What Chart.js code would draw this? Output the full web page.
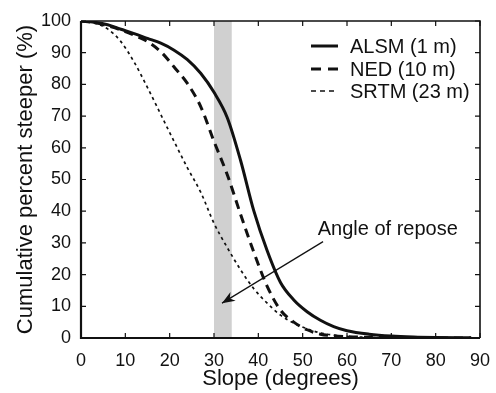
<!DOCTYPE html>
<html lang="en">
<head>
<meta charset="UTF-8">
<title>Cumulative slope distribution</title>
<script src="https://cdn.jsdelivr.net/npm/chart.js"></script>
<style>
  html, body { margin: 0; padding: 0; background: #ffffff; }
  #wrap { width: 496px; height: 393px; }
</style>
</head>
<body>
<div id="wrap"><canvas id="slopeChart"></canvas></div>
<script>
// slope values (degrees) shared by all three curves
const slopeDeg = [0, 3, 6, 9, 12, 15, 18, 21, 24, 27, 30, 33, 36, 39, 42, 45, 48, 51, 54, 57, 60, 65, 70, 75, 80, 88];
// cumulative percent steeper
const alsmPct = [100, 99.6, 98.8, 97.4, 96, 94.5, 93, 90.8, 87.8, 83.5, 77.5, 69.5, 56, 40, 27.5, 17.5, 12, 8.3, 5.6, 3.6, 2.3, 1.2, 0.6, 0.3, 0.15, 0.05];
const nedPct  = [100, 99.5, 98.5, 97.2, 95.5, 93.5, 90.3, 85.5, 80.3, 73, 62, 51.5, 39, 27, 16.3, 8.8, 5, 2.6, 1.2, 0.7, 0.4, 0.2, 0.1, 0.05, 0, 0];
const srtmPct = [100, 99.3, 97.5, 93.5, 87, 79, 70.5, 62, 53.7, 46, 36.2, 28.5, 21.5, 15.5, 11, 7.2, 4.7, 2.9, 1.6, 0.9, 0.5, 0.2, 0.1, 0, 0, 0];
const seriesLabels = ['ALSM (1 m)', 'NED (10 m)', 'SRTM (23 m)'];

const xTicks = [0, 10, 20, 30, 40, 50, 60, 70, 80, 90];
const yTicks = [0, 10, 20, 30, 40, 50, 60, 70, 80, 90, 100];

// shaded angle-of-repose band and its arrow/label (data units)
const reposeBand = [30, 34];
const arrowFrom = [54.6, 30.4];
const arrowTo = [31.8, 11.0];
const noteAt = [53.4, 34.1];
const noteText = 'Angle of repose';

const FONT = '"Liberation Sans", Arial, sans-serif';
const INK = '#111111';

function toPoints(ys) {
    return slopeDeg.map((x, i) => ({ x: x, y: ys[i] }));
}

const styles = [
    { width: 3, dash: [], legendDash: [] },
    { width: 3, dash: [9, 6], legendDash: [10, 7] },
    { width: 1.7, dash: [3, 3.5], legendDash: [5, 4] }
];

// band behind the curves
const bandPlugin = {
    id: 'band',
    beforeDatasetsDraw(chart) {
        const { ctx, chartArea, scales } = chart;
        const x0 = scales.x.getPixelForValue(reposeBand[0]);
        const x1 = scales.x.getPixelForValue(reposeBand[1]);
        ctx.save();
        ctx.fillStyle = '#d0d0d0';
        ctx.fillRect(x0, chartArea.top, x1 - x0, chartArea.bottom - chartArea.top);
        ctx.restore();
    }
};

// frame, inward ticks, legend, arrow note
const framePlugin = {
    id: 'frame',
    afterDraw(chart) {
        const { ctx, chartArea: a, scales } = chart;
        ctx.save();
        ctx.strokeStyle = INK;

        // inward tick marks on all four sides
        ctx.lineWidth = 1.2;
        const tl = 5;
        xTicks.forEach(v => {
            const px = scales.x.getPixelForValue(v);
            ctx.beginPath();
            ctx.moveTo(px, a.bottom); ctx.lineTo(px, a.bottom - tl);
            ctx.moveTo(px, a.top); ctx.lineTo(px, a.top + tl);
            ctx.stroke();
        });
        yTicks.forEach(v => {
            const py = scales.y.getPixelForValue(v);
            ctx.beginPath();
            ctx.moveTo(a.left, py); ctx.lineTo(a.left + tl, py);
            ctx.moveTo(a.right, py); ctx.lineTo(a.right - tl, py);
            ctx.stroke();
        });

        // box
        ctx.lineWidth = 1.6;
        ctx.beginPath();
        ctx.moveTo(a.left, a.top); ctx.lineTo(a.right, a.top); ctx.lineTo(a.right, a.bottom);
        ctx.stroke();
        ctx.lineWidth = 2.2;
        ctx.beginPath();
        ctx.moveTo(a.left, a.top); ctx.lineTo(a.left, a.bottom); ctx.lineTo(a.right, a.bottom);
        ctx.stroke();

        // legend
        ctx.font = '20px ' + FONT;
        ctx.fillStyle = INK;
        ctx.textBaseline = 'middle';
        ctx.textAlign = 'left';
        const lx0 = 311, lx1 = 338, tx = 350;
        const rows = [46, 69, 91];
        chart.data.datasets.forEach((ds, i) => {
            ctx.lineWidth = styles[i].width;
            ctx.setLineDash(styles[i].legendDash);
            ctx.beginPath();
            ctx.moveTo(lx0, rows[i]); ctx.lineTo(lx1, rows[i]);
            ctx.stroke();
            ctx.setLineDash([]);
            ctx.fillText(ds.label, tx, rows[i] + 1);
        });

        // arrow with note
        const fx = scales.x.getPixelForValue(arrowFrom[0]);
        const fy = scales.y.getPixelForValue(arrowFrom[1]);
        const ex = scales.x.getPixelForValue(arrowTo[0]);
        const ey = scales.y.getPixelForValue(arrowTo[1]);
        ctx.lineWidth = 1.2;
        ctx.beginPath();
        ctx.moveTo(fx, fy); ctx.lineTo(ex, ey);
        ctx.stroke();
        const ang = Math.atan2(ey - fy, ex - fx);
        const hl = 13, hw = 5;
        ctx.beginPath();
        ctx.moveTo(ex, ey);
        ctx.lineTo(ex - hl * Math.cos(ang) + hw * Math.sin(ang), ey - hl * Math.sin(ang) - hw * Math.cos(ang));
        ctx.lineTo(ex - hl * 0.7 * Math.cos(ang), ey - hl * 0.7 * Math.sin(ang));
        ctx.lineTo(ex - hl * Math.cos(ang) - hw * Math.sin(ang), ey - hl * Math.sin(ang) + hw * Math.cos(ang));
        ctx.closePath();
        ctx.fill();

        ctx.fillText(noteText, scales.x.getPixelForValue(noteAt[0]), scales.y.getPixelForValue(noteAt[1]));
        ctx.restore();
    }
};

const ctx = document.getElementById('slopeChart').getContext('2d');
const chart = new Chart(ctx, {
    type: 'line',
    data: {
        datasets: [alsmPct, nedPct, srtmPct].map((ys, i) => ({
            label: seriesLabels[i],
            data: toPoints(ys),
            borderColor: INK,
            borderWidth: styles[i].width,
            borderDash: styles[i].dash,
            pointRadius: 0,
            fill: false,
            cubicInterpolationMode: 'monotone'
        }))
    },
    options: {
        responsive: true,
        maintainAspectRatio: false,
        animation: false,
        layout: { padding: { top: 21, right: 16, left: 0, bottom: 0 } },
        plugins: { legend: { display: false }, tooltip: { enabled: false } },
        scales: {
            x: {
                type: 'linear',
                min: 0, max: 90,
                afterBuildTicks: s => { s.ticks = xTicks.map(v => ({ value: v })); },
                afterFit: s => { s.height = 55; },
                grid: { display: false },
                border: { display: false },
                ticks: { color: INK, font: { family: FONT, size: 18 }, padding: 4, maxRotation: 0 },
                title: { display: true, text: 'Slope (degrees)', color: INK, font: { family: FONT, size: 22 }, padding: { top: 0, bottom: 1 } }
            },
            y: {
                type: 'linear',
                min: 0, max: 100,
                afterBuildTicks: s => { s.ticks = yTicks.map(v => ({ value: v })); },
                afterFit: s => { s.width = 81; },
                grid: { display: false },
                border: { display: false },
                ticks: { color: INK, font: { family: FONT, size: 18 }, padding: 2 },
                title: { display: true, text: 'Cumulative percent steeper (%)', color: INK, font: { family: FONT, size: 22 }, padding: { top: 13, bottom: 0 } }
            }
        }
    },
    plugins: [bandPlugin, framePlugin]
});
</script>
</body>
</html>
